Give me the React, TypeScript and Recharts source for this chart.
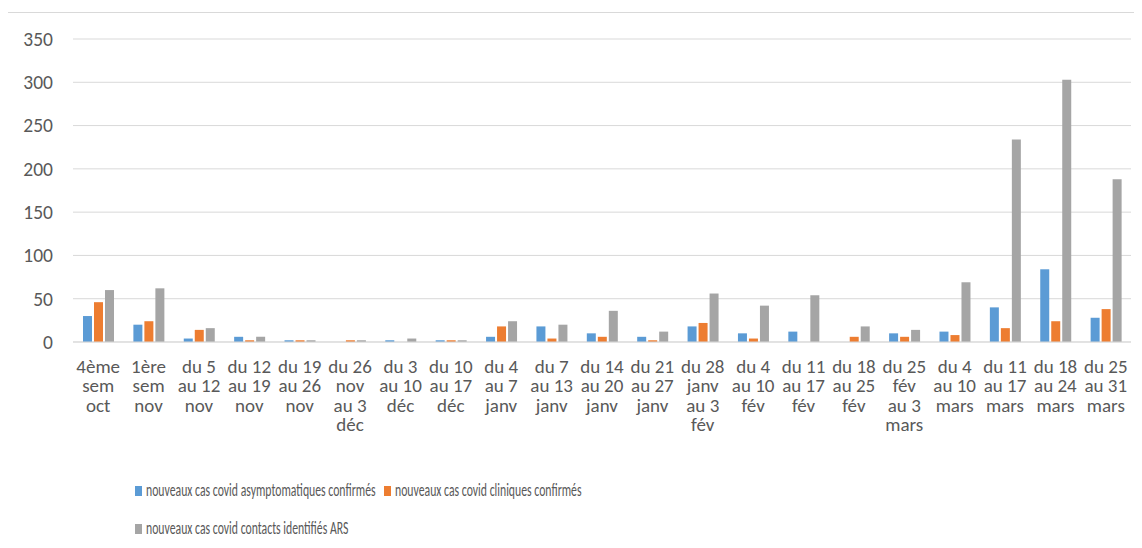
import React from 'react'
import { BarChart, Bar, XAxis, YAxis, CartesianGrid, Legend } from 'recharts'

const weekLines = [
  ['4ème', 'sem', 'oct'],
  ['1ère', 'sem', 'nov'],
  ['du 5', 'au 12', 'nov'],
  ['du 12', 'au 19', 'nov'],
  ['du 19', 'au 26', 'nov'],
  ['du 26', 'nov', 'au 3', 'déc'],
  ['du 3', 'au 10', 'déc'],
  ['du 10', 'au 17', 'déc'],
  ['du 4', 'au 7', 'janv'],
  ['du 7', 'au 13', 'janv'],
  ['du 14', 'au 20', 'janv'],
  ['du 21', 'au 27', 'janv'],
  ['du 28', 'janv', 'au 3', 'fév'],
  ['du 4', 'au 10', 'fév'],
  ['du 11', 'au 17', 'fév'],
  ['du 18', 'au 25', 'fév'],
  ['du 25', 'fév', 'au 3', 'mars'],
  ['du 4', 'au 10', 'mars'],
  ['du 11', 'au 17', 'mars'],
  ['du 18', 'au 24', 'mars'],
  ['du 25', 'au 31', 'mars'],
]

const asymptomatiques = [30, 20, 4, 6, 2, 0, 2, 2, 6, 18, 10, 6, 18, 10, 12, 0, 10, 12, 40, 84, 28]
const cliniques = [46, 24, 14, 2, 2, 2, 0, 2, 18, 4, 6, 2, 22, 4, 0, 6, 6, 8, 16, 24, 38]
const contacts = [60, 62, 16, 6, 2, 2, 4, 2, 24, 20, 36, 12, 56, 42, 54, 18, 14, 69, 234, 303, 188]

const yTicks = [0, 50, 100, 150, 200, 250, 300, 350]

const series = [
  { key: 'asym', name: 'nouveaux cas covid asymptomatiques confirmés', color: '#5b9bd5' },
  { key: 'clin', name: 'nouveaux cas covid cliniques confirmés', color: '#ed7d31' },
  { key: 'cont', name: 'nouveaux cas covid contacts identifiés ARS', color: '#a5a5a5' },
]

const data = weekLines.map((lines, i) => ({
  week: lines.join(' '),
  asym: asymptomatiques[i],
  clin: cliniques[i],
  cont: contacts[i],
}))

const FONT = "Carlito, Lato, 'DejaVu Sans Condensed', Roboto, sans-serif"
const TEXT = '#595959'

function WeekTick({ x, y, payload, index }: any) {
  const lines = weekLines[index] || [String(payload.value)]
  return (
    <text x={x} y={y} textAnchor="middle" fill={TEXT} fontSize={19} fontFamily={FONT}>
      {lines.map((l, k) => (
        <tspan key={k} x={x} dy={k === 0 ? 22.5 : 19.5}>
          {l}
        </tspan>
      ))}
    </text>
  )
}

// the legend labels are squeezed horizontally in the source export
const LEGEND_SQUEEZE = 0.635
const legendRows = [
  [{ s: series[0], x: 127 }, { s: series[1], x: 376 }],
  [{ s: series[2], x: 127 }],
]

function LegendRows() {
  return (
    <svg width={1134} height={100} style={{ display: 'block' }}>
      {legendRows.map((row, r) => {
        const base = 48 + r * 38
        return row.map(({ s, x }) => (
          <g key={s.key}>
            <rect x={x} y={base - 10} width={7} height={10} fill={s.color} />
            <text
              transform={`translate(${x + 11},${base}) scale(${LEGEND_SQUEEZE},1)`}
              fontSize={18.5}
              fontFamily={FONT}
              fill={TEXT}
            >
              {s.name}
            </text>
          </g>
        ))
      })}
    </svg>
  )
}

export default function App() {
  return (
    <div style={{ marginLeft: -1, marginTop: 4, borderTop: '1px solid #d9d9d9', borderLeft: '1px solid #d9d9d9', width: 1134, height: 536 }}>
      <BarChart
        width={1134}
        height={535}
        data={data}
        margin={{ top: 26, right: 11, left: 0, bottom: 0 }}
        barGap={2}
        barSize={9}
      >
        <CartesianGrid vertical={false} stroke="#d9d9d9" />
        <XAxis
          dataKey="week"
          interval={0}
          tick={<WeekTick />}
          tickLine={false}
          axisLine={{ stroke: '#d9d9d9' }}
          height={106}
        />
        <YAxis
          domain={[0, 350]}
          ticks={yTicks}
          width={65}
          axisLine={false}
          tickLine={false}
          tickSize={0}
          tickMargin={20}
          tick={{ fill: TEXT, fontSize: 19.5, fontFamily: FONT }}
        />
        <Legend verticalAlign="bottom" height={100} content={() => <LegendRows />} />
        {series.map((s) => (
          <Bar key={s.key} dataKey={s.key} name={s.name} fill={s.color} isAnimationActive={false} />
        ))}
      </BarChart>
    </div>
  )
}
